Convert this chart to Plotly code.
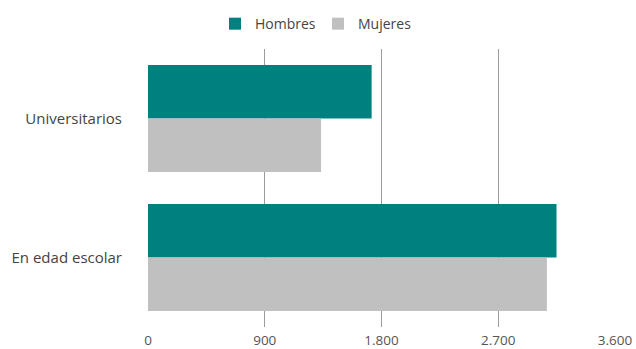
import plotly.graph_objects as go

categories = ["Universitarios", "En edad escolar"]
hombres = [1724, 3149]
mujeres = [1334, 3075]
tick_vals = [0, 900, 1800, 2700, 3600]

fig = go.Figure()
fig.add_trace(go.Bar(y=categories, x=hombres, name="Hombres", orientation="h",
                     marker=dict(color="#00807F", line=dict(width=0))))
fig.add_trace(go.Bar(y=categories, x=mujeres, name="Mujeres", orientation="h",
                     marker=dict(color="#C0C0C0", line=dict(width=0))))

fig.update_layout(
    width=636, height=349,
    barmode="group", bargap=0.23, bargroupgap=0,
    separators=",.",
    plot_bgcolor="white", paper_bgcolor="white",
    font=dict(family="Open Sans, sans-serif", size=14, color="#444444"),
    margin=dict(l=148, r=21, t=49, b=22),
    legend=dict(orientation="h", xref="container", x=0.5, xanchor="center",
                yref="container", y=0.931, yanchor="middle",
                font=dict(size=14, color="#444444"), itemwidth=30,
                entrywidth=58, entrywidthmode="pixels",
                traceorder="normal"),
    xaxis=dict(range=[0, 3600], tickvals=tick_vals, tickformat=",d",
               showgrid=True, gridcolor="#9A9A9A", gridwidth=1,
               zeroline=False, showline=False, ticks="", automargin=False,
               ticklabelstandoff=3,
               tickfont=dict(size=13.5, color="#555555"), fixedrange=True),
    yaxis=dict(autorange="reversed", showgrid=False, ticks="", showline=False,
               automargin=False, ticklabelstandoff=25,
               tickfont=dict(size=15, color="#444444")),
)
fig.write_html(
    "out.html",
    config={"displayModeBar": False},
    post_script="document.body.style.margin='0';document.body.style.overflow='hidden';",
)
